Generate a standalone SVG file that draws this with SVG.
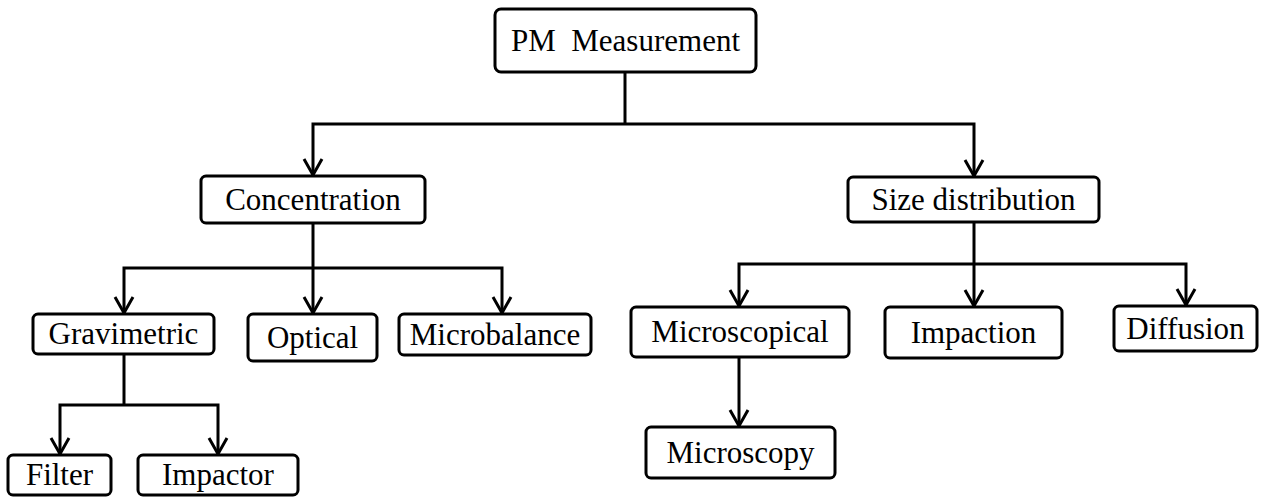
<svg xmlns="http://www.w3.org/2000/svg" width="1267" height="497" viewBox="0 0 1267 497">
<style>
.box{fill:#fff;stroke:#000;stroke-width:3}
.lbl{font-family:"Liberation Serif","Times New Roman",serif;font-size:31px;fill:#000;text-anchor:middle}
.con{fill:none;stroke:#000;stroke-width:3}
.arr{marker-end:url(#ah)}
</style>
<defs>
<marker id="ah" markerUnits="userSpaceOnUse" markerWidth="24" markerHeight="24" viewBox="-20 -12 24 24" refX="0" refY="0" orient="auto">
<path d="M-16,-9 L0,0 L-16,9" fill="none" stroke="#000" stroke-width="3"/>
</marker>
</defs>
<rect width="1267" height="497" fill="#fff"/>
<g id="connectors">
<path class="con" d="M625,72 V124"/>
<path class="con arr" d="M625,124 H313 V175"/>
<path class="con arr" d="M625,124 H974 V176"/>
<path class="con" d="M313,223 V268"/>
<path class="con arr" d="M313,268 H124 V313"/>
<path class="con arr" d="M313,268 V313"/>
<path class="con arr" d="M313,268 H502 V313"/>
<path class="con" d="M124,354 V405"/>
<path class="con arr" d="M124,405 H60 V454"/>
<path class="con arr" d="M124,405 H218 V454"/>
<path class="con" d="M974,222 V264"/>
<path class="con arr" d="M974,264 H739 V306"/>
<path class="con arr" d="M974,264 V306"/>
<path class="con arr" d="M974,264 H1186 V305"/>
<path class="con arr" d="M739,357 V426"/>
</g>
<g id="pm"><rect class="box" x="495" y="9" width="261" height="63" rx="6"/><text class="lbl" x="625.5" y="50.5" xml:space="preserve">PM  Measurement</text></g>
<g id="concentration"><rect class="box" x="201" y="176" width="224" height="47" rx="5"/><text class="lbl" x="313" y="210">Concentration</text></g>
<g id="size"><rect class="box" x="848" y="177" width="251" height="45" rx="5"/><text class="lbl" x="973.5" y="210">Size distribution</text></g>
<g id="gravimetric"><rect class="box" x="33" y="314" width="181" height="40" rx="5"/><text class="lbl" x="123.5" y="344">Gravimetric</text></g>
<g id="optical"><rect class="box" x="248" y="314" width="129" height="47" rx="5"/><text class="lbl" x="312.5" y="348">Optical</text></g>
<g id="microbalance"><rect class="box" x="399" y="314" width="192" height="41" rx="5"/><text class="lbl" x="495" y="345">Microbalance</text></g>
<g id="microscopical"><rect class="box" x="631" y="307" width="218" height="50" rx="5"/><text class="lbl" x="740" y="342">Microscopical</text></g>
<g id="impaction"><rect class="box" x="885" y="307" width="177" height="51" rx="5"/><text class="lbl" x="973.5" y="342.5">Impaction</text></g>
<g id="diffusion"><rect class="box" x="1114" y="306" width="143" height="45" rx="5"/><text class="lbl" x="1185.5" y="339">Diffusion</text></g>
<g id="filter"><rect class="box" x="8" y="455" width="103" height="40" rx="5"/><text class="lbl" x="59.5" y="485">Filter</text></g>
<g id="impactor"><rect class="box" x="138" y="455" width="160" height="40" rx="5"/><text class="lbl" x="218" y="485">Impactor</text></g>
<g id="microscopy"><rect class="box" x="646" y="427" width="189" height="51" rx="5"/><text class="lbl" x="740.5" y="462.5">Microscopy</text></g>
</svg>
